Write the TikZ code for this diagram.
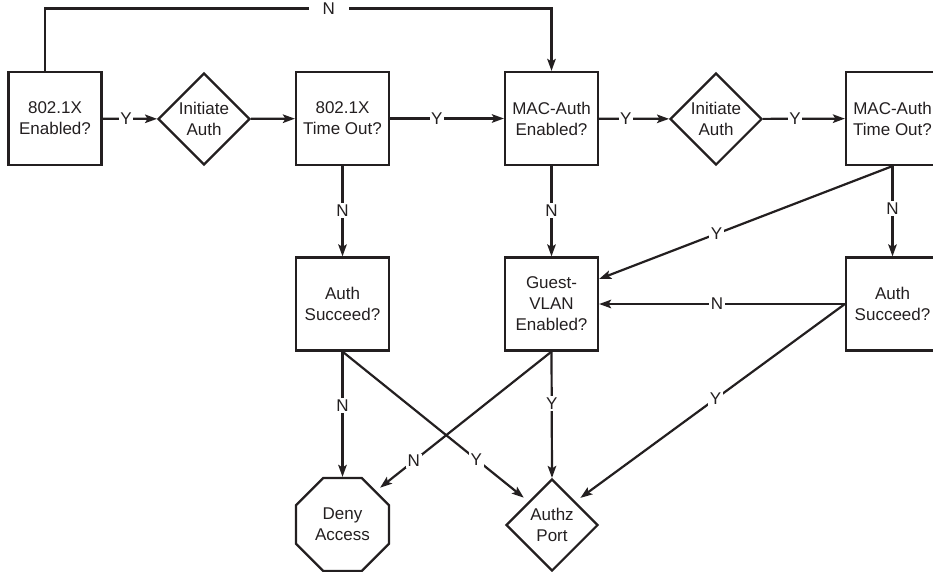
\documentclass[tikz,border=0pt]{standalone}
\usepackage{fontspec}
\setmainfont{Liberation Sans}
\usetikzlibrary{shapes.geometric,arrows.meta}
\definecolor{ink}{RGB}{35,31,32}
\begin{document}
\begin{tikzpicture}[x=1pt,y=-1pt,
  every node/.style={font=\fontsize{17}{21}\selectfont, text=ink},
  box/.style={draw=ink, line width=2.2pt, minimum width=93pt, minimum height=93pt, align=center, inner sep=0pt},
  dia/.style={draw=ink, line width=2.2pt, diamond, minimum width=92pt, minimum height=92pt, inner sep=0pt},
  oct/.style={draw=ink, line width=2.2pt, regular polygon, regular polygon sides=8, minimum size=100.7pt, inner sep=0pt},
  inlab/.style={align=center},
  arr/.style={draw=ink, line width=2.2pt, -{Stealth[length=12pt,width=8.5pt,inset=2.5pt]}},
  lab/.style={fill=white, inner sep=1.5pt}]
\useasboundingbox (0,0) rectangle (933,571);
\clip (0,0) rectangle (933,571);

% nodes
\node[box] (b1) at (55,118.5) {802.1X\\Enabled?};
\node[dia] (d1) at (204,119) {};
\node[inlab] at (d1) {Initiate\\Auth};
\node[box] (b2) at (342.5,118.5) {802.1X\\Time Out?};
\node[box] (b3) at (551.5,118.5) {MAC-Auth\\Enabled?};
\node[dia] (d2) at (716,119) {};
\node[inlab] at (d2) {Initiate\\Auth};
\node[box] (b4) at (892.5,118.5) {MAC-Auth\\Time Out?};

\node[box] (b5) at (342.5,304) {Auth\\Succeed?};
\node[box] (b6) at (551.5,304) {Guest-\\VLAN\\Enabled?};
\node[box] (b7) at (892.5,304) {Auth\\Succeed?};

\node[oct] (deny) at (342.5,524.5) {};
\node[inlab] at (deny) {Deny\\Access};
\node[dia] (authz) at (552,525) {};
\node[inlab] at (authz) {Authz\\Port};

% top feedback line
\coordinate (topy) at (0,8.5);
\draw[arr] ([xshift=-10pt]b1.north) -- ([xshift=-10pt]b1.north |- topy)
   -- node[lab,pos=0.56,inner xsep=14pt]{N} (topy -| b3.north) -- (b3.north);

% first row
\draw[arr] (b1) -- node[lab,pos=0.43]{Y} (d1);
\draw[arr] (d1) -- (b2);
\draw[arr] (b2) -- node[lab,pos=0.41]{Y} (b3);
\draw[arr] (b3) -- node[lab,pos=0.38]{Y} (d2);
\draw[arr] (d2) -- node[lab,pos=0.39]{Y} (b4);

% verticals
\draw[arr] (b2) -- node[lab,pos=0.49]{N} (b5);
\draw[arr] (b3) -- node[lab,pos=0.49]{N} (b6);
\draw[arr] (b4) -- node[lab,pos=0.47]{N} (b7);

% right side
\draw[arr] (b4.south) -- node[lab,pos=0.60]{Y} ([yshift=25pt]b6.east);
\draw[arr] (b7.west) -- node[lab,pos=0.52]{N} (b6.east);
\draw[arr, shorten >=6pt] (b7.west) -- node[lab,pos=0.48]{Y} (authz.north east);

% bottom
\draw[arr] (b5.south) -- node[lab,pos=0.43]{N} (deny.north);
\draw[arr] (b6.south) -- node[lab,pos=0.41]{Y} (authz.north);
\draw[arr, shorten >=6pt] (b5.south) -- node[lab,pos=0.72]{Y} (authz.north west);
\draw[arr, shorten >=5pt] (b6.south) -- node[lab,pos=0.785]{N} (deny.north east);
\end{tikzpicture}
\end{document}
